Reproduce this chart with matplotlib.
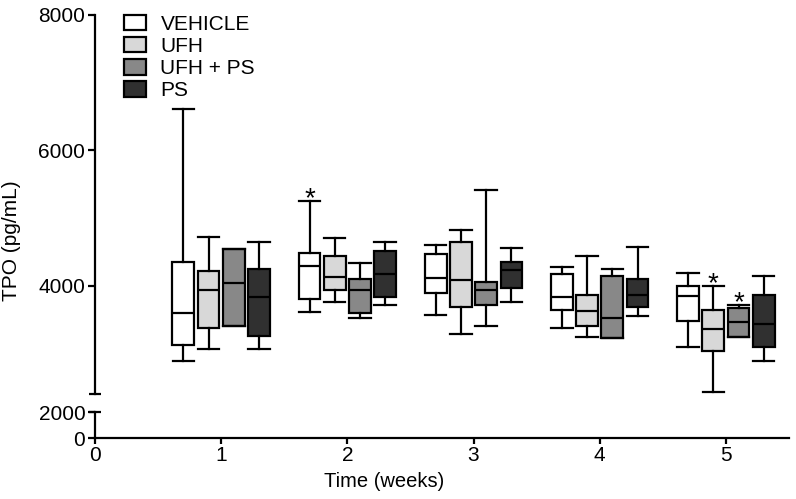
import matplotlib
matplotlib.use('Agg')
import matplotlib.pyplot as plt
from matplotlib.patches import Patch

plt.rcParams['font.family'] = ['Liberation Sans', 'DejaVu Sans']

weeks = [1, 2, 3, 4, 5]
groups = ['VEHICLE', 'UFH', 'UFH + PS', 'PS']
colors = ['#ffffff', '#d8d8d8', '#888888', '#303030']

# box statistics, one list per group (weeks 1-5)
whishi = {
    'VEHICLE': [6610, 5250, 4600, 4280, 4190],
    'UFH': [4720, 4710, 4820, 4440, 3990],
    'UFH + PS': [4540, 4340, 5420, 4240, 3710],
    'PS': [4650, 4650, 4550, 4570, 4150],
}
q3 = {
    'VEHICLE': [4350, 4480, 4470, 4170, 3990],
    'UFH': [4220, 4440, 4640, 3870, 3640],
    'UFH + PS': [4540, 4100, 4050, 4150, 3670],
    'PS': [4250, 4520, 4350, 4100, 3870],
}
med = {
    'VEHICLE': [3590, 4290, 4110, 3830, 3850],
    'UFH': [3940, 4130, 4090, 3620, 3360],
    'UFH + PS': [4040, 3930, 3930, 3530, 3460],
    'PS': [3840, 4170, 4230, 3860, 3440],
}
q1 = {
    'VEHICLE': [3120, 3810, 3890, 3640, 3480],
    'UFH': [3380, 3940, 3680, 3410, 3030],
    'UFH + PS': [3400, 3590, 3720, 3230, 3240],
    'PS': [3250, 3840, 3970, 3690, 3100],
}
whislo = {
    'VEHICLE': [2890, 3610, 3560, 3380, 3090],
    'UFH': [3070, 3760, 3290, 3240, 2430],
    'UFH + PS': [3400, 3530, 3400, 3230, 3240],
    'PS': [3070, 3710, 3760, 3550, 2890],
}
# significance marks: (week, group)
stars = [(2, 'VEHICLE'), (5, 'UFH'), (5, 'UFH + PS')]

offsets = [-0.3, -0.1, 0.1, 0.3]
W, H = 796, 499
fig = plt.figure(figsize=(W / 100, H / 100), dpi=100)
left, right = 95 / W, 789 / W
ax = fig.add_axes([left, 1 - 394 / H, right - left, (394 - 15) / H])
axl = fig.add_axes([left, 1 - 438 / H, right - left, (438 - 412) / H])

lw = 1.6
for gi, g in enumerate(groups):
    stats = []
    for wi in range(len(weeks)):
        stats.append(dict(med=med[g][wi], q1=q1[g][wi], q3=q3[g][wi],
                          whislo=whislo[g][wi], whishi=whishi[g][wi], fliers=[]))
    pos = [w + offsets[gi] for w in weeks]
    ax.bxp(stats, positions=pos, widths=0.172, capwidths=0.17, patch_artist=True,
           showfliers=False, manage_ticks=False,
           boxprops=dict(facecolor=colors[gi], edgecolor='black', linewidth=lw),
           medianprops=dict(color='black', linewidth=lw),
           whiskerprops=dict(color='black', linewidth=lw),
           capprops=dict(color='black', linewidth=lw))

for w, g in stars:
    gi = groups.index(g)
    ax.annotate('*', (w + offsets[gi], whishi[g][weeks.index(w)]),
                xytext=(0, -8), textcoords='offset points',
                ha='center', va='bottom', fontsize=20)

for a in (ax, axl):
    a.set_xlim(0, 5.5)
    for s in ('top', 'right'):
        a.spines[s].set_visible(False)
    a.spines['left'].set_linewidth(1.6)
    a.spines['bottom'].set_linewidth(1.6)
    a.tick_params(width=1.6, length=5, labelsize=15, pad=2)

ax.set_ylim(2400, 8000)
ax.set_yticks([4000, 6000, 8000])
ax.spines['bottom'].set_visible(False)
ax.set_xticks([])
ax.plot([0], [2400], marker='_', markersize=9, mew=1.6, color='black', clip_on=False)

axl.set_ylim(0, 2000)
axl.set_yticks([0, 2000])
axl.set_xticks([0, 1, 2, 3, 4, 5])
axl.tick_params(axis='x', length=4, pad=2)
axl.plot([0], [2000], marker='_', markersize=9, mew=1.6, color='black', clip_on=False)
axl.set_xlabel('Time (weeks)', fontsize=14.5)
axl.xaxis.set_label_coords(0.416, -1.3)

fig.text(12 / W, 1 - 241 / H, 'TPO (pg/mL)', rotation=90, ha='center', va='center', fontsize=15)

handles = [Patch(facecolor=c, edgecolor='black', linewidth=1.6) for c in colors]
ax.legend(handles, groups, loc='upper left', bbox_to_anchor=(29 / (right * W - left * W), 1.0),
          frameon=False, fontsize=15, handlelength=1.05, handleheight=0.75,
          handletextpad=0.7, labelspacing=0.15, borderpad=0, borderaxespad=0)

fig.savefig('out.png', dpi=100)
